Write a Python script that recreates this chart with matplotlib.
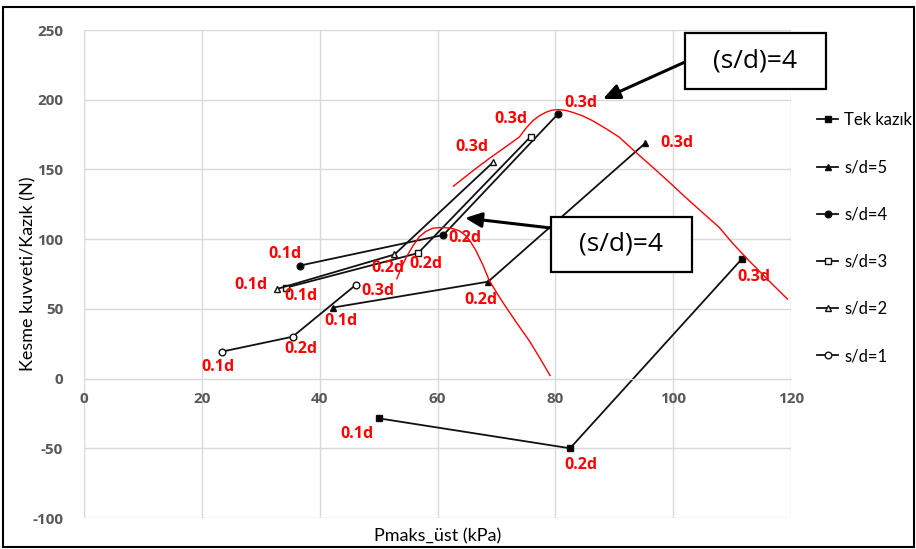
import matplotlib
matplotlib.use("Agg")
import matplotlib.pyplot as plt
from matplotlib.patches import Rectangle
from matplotlib.font_manager import FontProperties

plt.rcParams['font.family'] = ['Lato', 'DejaVu Sans']
plt.rcParams['axes.unicode_minus'] = False

# ---- data ----
tek_x = [50.0, 82.5, 111.7]
tek_y = [-28.5, -50.0, 86.0]
sd5_x = [42.2, 68.6, 95.3]
sd5_y = [50.9, 69.5, 169.0]
sd4_x = [36.6, 61.0, 80.5]
sd4_y = [81.0, 103.0, 190.0]
sd3_x = [34.3, 56.7, 75.8]
sd3_y = [65.2, 90.0, 173.5]
sd2_x = [32.8, 52.7, 69.4]
sd2_y = [64.3, 89.0, 155.0]
sd1_x = [23.5, 35.4, 46.2]
sd1_y = [19.4, 30.0, 67.4]

series_names = ["Tek kazık", "s/d=5", "s/d=4", "s/d=3", "s/d=2", "s/d=1"]

# red envelope curves (hand-drawn in source)
env1_x = [62.7, 64.5, 66.3, 68.2, 70.0, 72.0, 73.9, 75.0, 76.2, 77.3, 78.4, 79.4, 80.4, 81.6,
          82.9, 84.6, 86.3, 88.5, 90.8, 93.6, 96.5, 99.3, 102.1, 105.0, 107.8, 110.0, 112.3,
          115.8, 119.4]
env1_y = [138.0, 144.0, 150.0, 156.0, 161.5, 167.5, 173.3, 179.5, 185.0, 188.5, 191.0, 192.5,
          192.9, 192.5, 191.0, 188.5, 185.0, 179.5, 173.3, 162.5, 151.7, 141.0, 130.0, 119.0,
          108.5, 97.5, 87.0, 72.0, 57.0]
env2_x = [53.1, 53.9, 54.7, 55.8, 56.9, 58.0, 59.2, 60.3, 61.5, 62.6, 63.7, 64.8, 65.7, 66.5,
          67.7, 68.8, 70.2, 71.6, 73.6, 75.6, 77.4, 79.1]
env2_y = [71.6, 80.0, 87.0, 95.0, 101.6, 105.5, 107.8, 108.3, 108.2, 107.5, 106.0, 102.5, 97.5,
          92.0, 81.5, 70.3, 60.5, 51.4, 39.0, 27.0, 14.5, 2.2]

# point labels
lab_text = ["0.1d", "0.2d", "0.3d"] * 6
lab_x = [46.3, 84.4, 113.7,
         43.6, 67.3, 100.7,
         34.1, 64.7, 84.4,
         36.9, 58.1, 72.5,
         28.3, 51.5, 65.9,
         22.7, 36.8, 49.8]
lab_y = [-39.4, -62.0, 73.0,
         41.0, 56.6, 169.0,
         89.0, 101.0, 198.0,
         59.0, 82.0, 186.0,
         67.4, 79.0, 166.0,
         8.0, 21.0, 63.0]

x_ticks = [0, 20, 40, 60, 80, 100, 120]
y_ticks = [-100, -50, 0, 50, 100, 150, 200, 250]

W, H = 916, 549
fig = plt.figure(figsize=(W / 100, H / 100), dpi=100)
ax = fig.add_axes([84 / W, 1 - 518 / H, (791 - 84) / W, (518 - 30) / H])

grid_c = '#d9d9d9'
ax.set_xlim(0, 120)
ax.set_ylim(-100, 250)
ax.grid(True, color=grid_c, linewidth=1.0)
ax.set_axisbelow(True)
for s in ['top', 'right', 'left']:
    ax.spines[s].set_visible(False)
ax.spines['bottom'].set_position(('data', 0))
ax.spines['bottom'].set_color(grid_c)
ax.tick_params(axis='both', length=0)
ax.tick_params(axis='x', pad=10)
ax.tick_params(axis='y', pad=15)

tick_fp = FontProperties(family=['Open Sans', 'DejaVu Sans'], weight='bold', size=11)
ax.set_xticks(x_ticks)
ax.set_xticklabels([str(v) for v in x_ticks], fontproperties=tick_fp, color='#595959')
ax.set_yticks(y_ticks)
ax.set_yticklabels([str(v) for v in y_ticks], fontproperties=tick_fp, color='#595959')

lw = 1.3
ms = 4.8
ax.plot(tek_x, tek_y, color='#111111', lw=lw, marker='s', ms=ms, mfc='black', label=series_names[0])
ax.plot(sd5_x, sd5_y, color='#111111', lw=lw, marker='^', ms=ms, mfc='black', label=series_names[1])
ax.plot(sd4_x, sd4_y, color='#111111', lw=lw, marker='o', ms=ms, mfc='black', label=series_names[2])
ax.plot(sd3_x, sd3_y, color='#111111', lw=lw, marker='s', ms=ms, mfc='white', label=series_names[3])
ax.plot(sd2_x, sd2_y, color='#111111', lw=lw, marker='^', ms=ms, mfc='white', label=series_names[4])
ax.plot(sd1_x, sd1_y, color='#111111', lw=lw, marker='o', ms=ms, mfc='white', label=series_names[5])

ax.plot(env1_x, env1_y, color='red', lw=1.0)
ax.plot(env2_x, env2_y, color='red', lw=1.0)

for t, x, y in zip(lab_text, lab_x, lab_y):
    ax.text(x, y, t, color='red', fontsize=11.5, fontweight='bold',
            ha='center', va='center', family=['Open Sans', 'DejaVu Sans'])

ax.set_ylabel("Kesme kuvveti/Kazık (N)", fontsize=13, color='black')
ax.yaxis.set_label_coords(-0.067, 0.5)
fig.text(437.5 / W, 1 - 536 / H, "Pmaks_üst (kPa)", fontsize=13, ha='center', va='center')

leg = ax.legend(loc='upper left', bbox_to_anchor=((810 - 84) / (791 - 84), 1 - (105.5 - 30) / 488),
                frameon=False, fontsize=12, handlelength=1.3, handletextpad=0.35,
                labelspacing=1.87, borderaxespad=0)

# annotation boxes
def fx(p):
    return p / W

def fy(p):
    return 1 - p / H

for (x0, y0, x1, y1), (ax0, ay0, ax1, ay1) in [((685, 33, 826, 89), (685, 62, 603, 99)),
                                                ((551, 217, 692, 272), (551, 228, 465, 218))]:
    fig.patches.append(Rectangle((fx(x0), fy(y1)), fx(x1 - x0), (y1 - y0) / H,
                                 transform=fig.transFigure, fill=True, facecolor='white',
                                 edgecolor='black', lw=1.6, zorder=5))
    fig.text(fx((x0 + x1) / 2), fy((y0 + y1) / 2), "(s/d)=4", fontsize=19,
             ha='center', va='center', zorder=6, family=['Open Sans', 'DejaVu Sans'])
    ax.annotate("", xy=(fx(ax1), fy(ay1)), xytext=(fx(ax0), fy(ay0)),
                xycoords='figure fraction', textcoords='figure fraction',
                arrowprops=dict(arrowstyle='-|>,head_length=1.0,head_width=0.45',
                                color='black', lw=2.2, shrinkA=0, shrinkB=0))

# outer frame
fig.patches.append(Rectangle((3 / W, 1 - 547 / H), 911 / W, 540 / H, transform=fig.transFigure,
                             fill=False, edgecolor='black', lw=1.5))

fig.savefig("out.png", dpi=100)
